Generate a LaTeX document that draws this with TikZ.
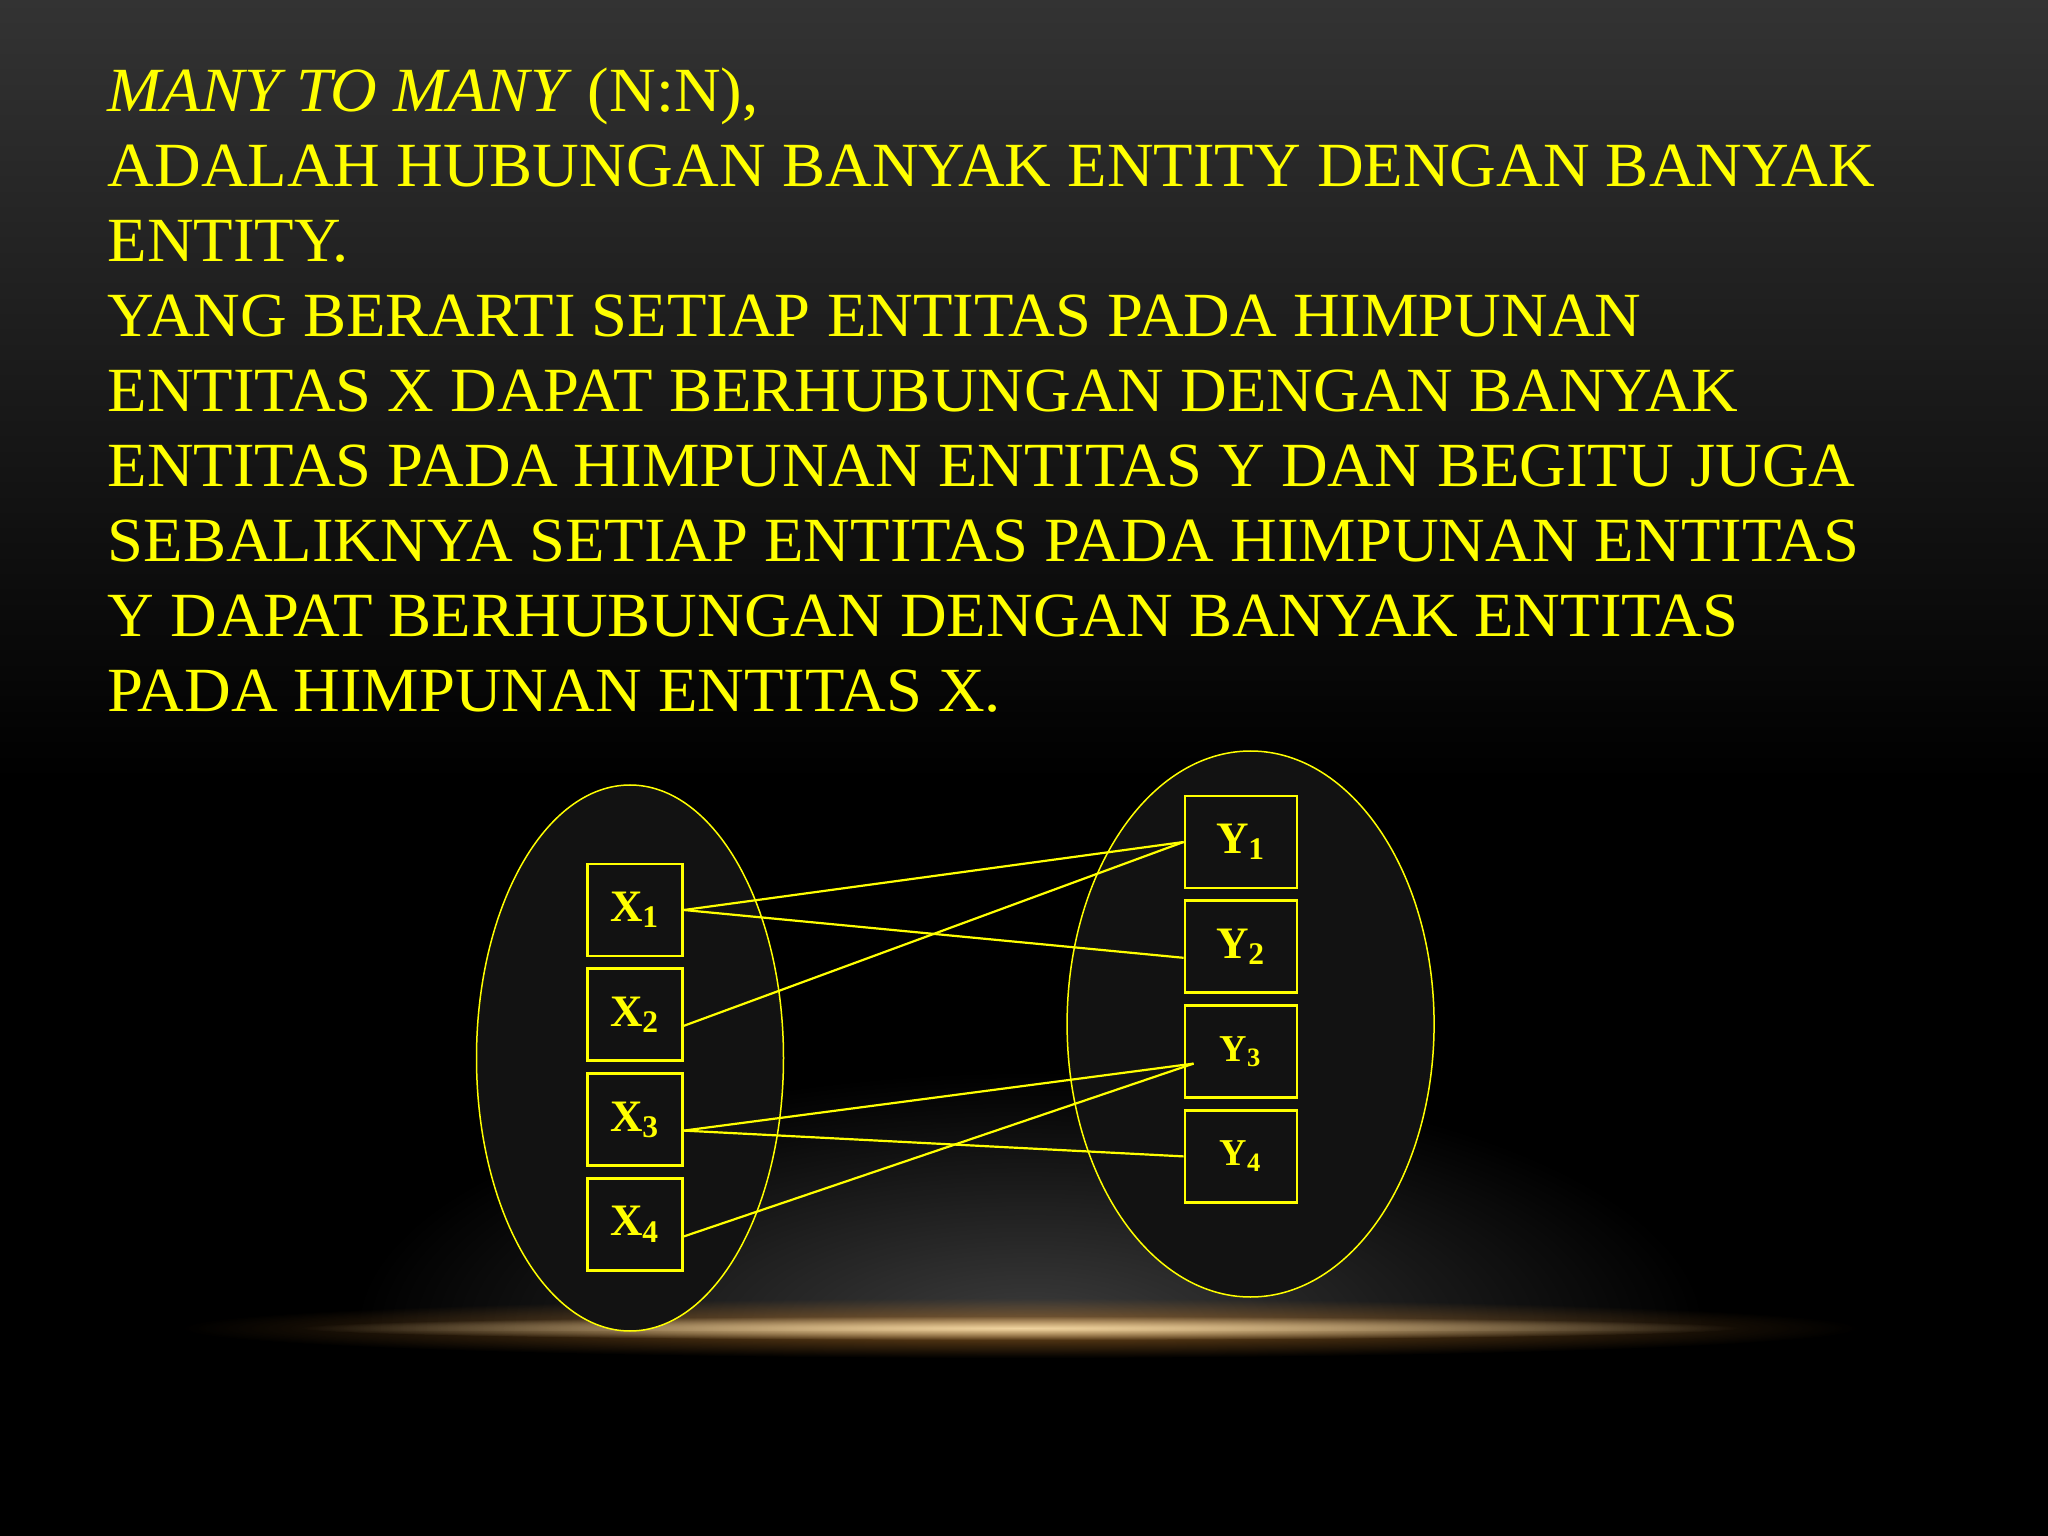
\documentclass[tikz,border=0pt]{standalone}
\usepackage{fontspec}
\setmainfont{Liberation Serif}
\newfontfamily\slidefont{Liberation Serif}[FakeStretch=1.027]
\usetikzlibrary{positioning,shapes.geometric,fadings}
\definecolor{slideyellow}{RGB}{255,255,0}
\definecolor{glowgold}{RGB}{240,212,160}
\definecolor{glowamber}{RGB}{170,110,40}
\tikzfading[name=softglow, inner color=transparent!0, outer color=transparent!100]
\begin{document}
\begin{tikzpicture}[
	setel/.style={ellipse, draw=slideyellow, line width=0.15mm, fill=black!93!white, inner sep=0pt},
	ent/.style={rectangle, draw=slideyellow, line width=0.28mm, fill=black!93!white, minimum height=0.92cm, inner sep=0pt, text=slideyellow, font=\fontsize{12.8}{14}\selectfont\bfseries},
	entx/.style={ent, minimum width=0.95cm},
	enty/.style={ent, minimum width=1.12cm},
	link/.style={slideyellow, line width=0.22mm}
	]
	\useasboundingbox (0,0) rectangle (20.48,-15.36);
	\shade[top color=black!80!white, bottom color=black] (0,0) rectangle (20.48,-7.8);
	\fill[black] (0,-7.8) rectangle (20.48,-15.36);
	\begin{scope}
		\clip (0,-13.3) rectangle (20.48,-8);
		\fill[white!24!black, path fading=softglow] (10.3,-13.3) ellipse (6.8 and 2.6);
	\end{scope}
	\fill[glowamber, path fading=softglow, opacity=0.75] (10.2,-13.28) ellipse (8.4 and 0.3);
	\fill[glowgold, path fading=softglow] (10.2,-13.28) ellipse (7.2 and 0.12);
	
	\node[text=slideyellow, anchor=base west, align=left, inner sep=0pt, font=\slidefont\fontsize{17.9}{21.34}\selectfont] (maintext) at (1.07,-7.117)
		{\textit{MANY TO MANY} (N:N),\\
		ADALAH HUBUNGAN BANYAK ENTITY DENGAN BANYAK\\
		ENTITY.\\
		YANG BERARTI SETIAP ENTITAS PADA HIMPUNAN\\
		ENTITAS X DAPAT BERHUBUNGAN DENGAN BANYAK\\
		ENTITAS PADA HIMPUNAN ENTITAS Y DAN BEGITU JUGA\\
		SEBALIKNYA SETIAP ENTITAS PADA HIMPUNAN ENTITAS\\
		Y DAPAT BERHUBUNGAN DENGAN BANYAK ENTITAS\\
		PADA HIMPUNAN ENTITAS X.};
	
	\node[setel, minimum width=3.07cm, minimum height=5.46cm] (setx) at (6.30,-10.58) {};
	\node[setel, minimum width=3.67cm, minimum height=5.46cm] (sety) at (12.506,-10.24) {};
	
	\node[entx] (x1) at (6.35,-9.10) {X\textsubscript{1}};
	\node[entx, below=0.10cm of x1] (x2) {X\textsubscript{2}};
	\node[entx, below=0.10cm of x2] (x3) {X\textsubscript{3}};
	\node[entx, below=0.10cm of x3] (x4) {X\textsubscript{4}};
	
	\node[enty] (y1) at (12.41,-8.42) {Y\textsubscript{1}};
	\node[enty, below=0.10cm of y1] (y2) {Y\textsubscript{2}};
	\node[enty, below=0.10cm of y2, font=\fontsize{10.8}{12}\selectfont\bfseries] (y3) {Y\textsubscript{3}};
	\node[enty, below=0.10cm of y3, font=\fontsize{10.8}{12}\selectfont\bfseries] (y4) {Y\textsubscript{4}};
	
	\coordinate (y3in) at ([xshift=0.1cm,yshift=-0.12cm]y3.west);
	\coordinate (x3out) at ([yshift=-0.11cm]x3.east);
	\draw[link] (x1.east) -- (y1.west);
	\draw[link] (x1.east) -- ([yshift=-0.11cm]y2.west);
	\draw[link] ([yshift=-0.11cm]x2.east) -- (y1.west);
	\draw[link] (x3out) -- (y3in);
	\draw[link] (x3out) -- (y4.west);
	\draw[link] ([yshift=-0.12cm]x4.east) -- (y3in);
\end{tikzpicture}
\end{document}
